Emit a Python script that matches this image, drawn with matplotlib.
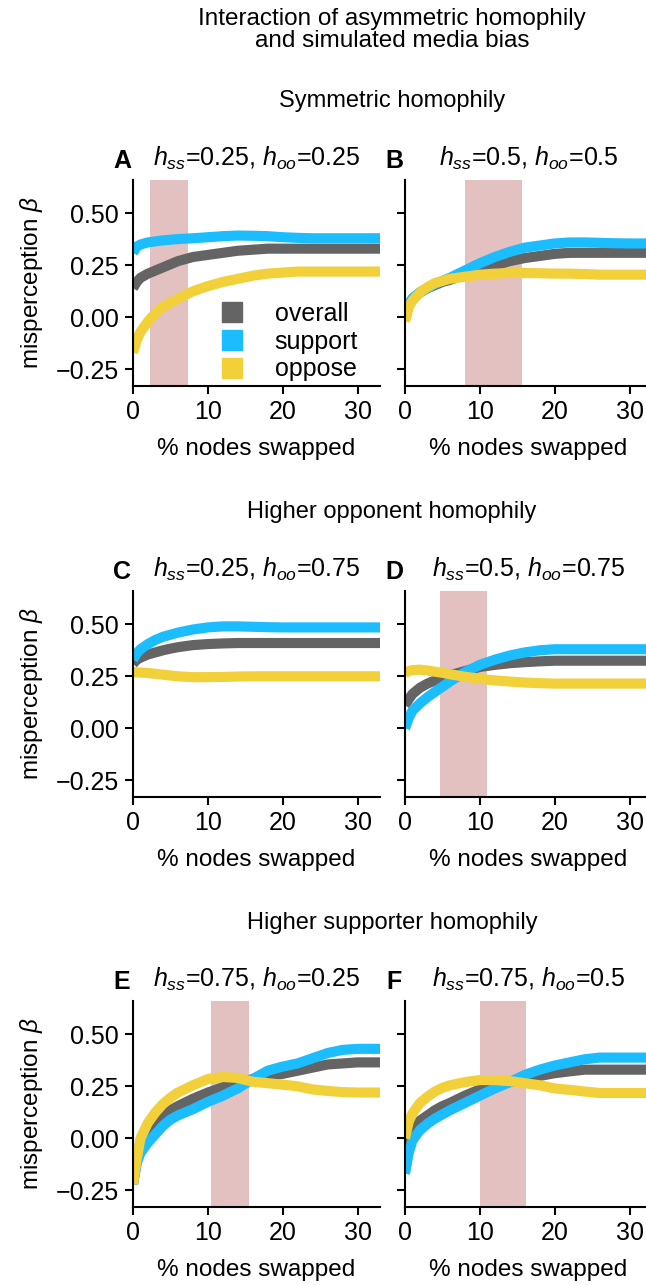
import numpy as np
import matplotlib
matplotlib.use("Agg")
import matplotlib.pyplot as plt
from matplotlib.lines import Line2D

plt.rcParams['font.family'] = ['Liberation Sans', 'DejaVu Sans']
plt.rcParams['mathtext.fontset'] = 'custom'
plt.rcParams['mathtext.rm'] = 'Liberation Sans'
plt.rcParams['mathtext.it'] = 'Liberation Sans:italic'
plt.rcParams['font.size'] = 18

# % nodes swapped
x = [0, 0.5, 1, 2, 3, 4, 5, 6, 8, 10, 12, 14, 16, 18, 20, 22, 24, 26, 28, 30, 33]

# panel A: h_ss=0.25, h_oo=0.25
a_overall = [0.14, 0.17, 0.19, 0.21, 0.225, 0.24, 0.255, 0.27, 0.29, 0.30, 0.31, 0.32, 0.325, 0.33, 0.33, 0.33, 0.33, 0.33, 0.33, 0.33, 0.33]
a_support = [0.31, 0.34, 0.35, 0.36, 0.365, 0.37, 0.373, 0.376, 0.38, 0.385, 0.39, 0.393, 0.392, 0.39, 0.385, 0.382, 0.38, 0.38, 0.38, 0.38, 0.38]
a_oppose = [-0.17, -0.11, -0.07, -0.02, 0.02, 0.05, 0.07, 0.09, 0.125, 0.15, 0.17, 0.185, 0.20, 0.21, 0.215, 0.22, 0.22, 0.22, 0.22, 0.22, 0.22]

# panel B: h_ss=0.5, h_oo=0.5
b_overall = [-0.01, 0.06, 0.09, 0.12, 0.14, 0.155, 0.17, 0.18, 0.205, 0.23, 0.25, 0.27, 0.285, 0.295, 0.305, 0.31, 0.31, 0.31, 0.31, 0.31, 0.31]
b_support = [-0.01, 0.06, 0.09, 0.12, 0.14, 0.16, 0.175, 0.19, 0.225, 0.26, 0.29, 0.315, 0.335, 0.345, 0.355, 0.36, 0.36, 0.358, 0.356, 0.355, 0.355]
b_oppose = [-0.02, 0.05, 0.08, 0.12, 0.145, 0.165, 0.175, 0.185, 0.195, 0.205, 0.21, 0.213, 0.213, 0.212, 0.21, 0.21, 0.208, 0.205, 0.205, 0.205, 0.205]

# panel C: h_ss=0.25, h_oo=0.75
c_overall = [0.31, 0.33, 0.34, 0.355, 0.365, 0.375, 0.383, 0.39, 0.40, 0.405, 0.408, 0.41, 0.41, 0.41, 0.41, 0.41, 0.41, 0.41, 0.41, 0.41, 0.41]
c_support = [0.33, 0.36, 0.38, 0.405, 0.425, 0.44, 0.45, 0.46, 0.475, 0.485, 0.49, 0.49, 0.488, 0.486, 0.485, 0.485, 0.485, 0.485, 0.485, 0.485, 0.485]
c_oppose = [0.27, 0.269, 0.268, 0.266, 0.262, 0.258, 0.254, 0.25, 0.246, 0.246, 0.247, 0.249, 0.25, 0.25, 0.25, 0.25, 0.25, 0.25, 0.25, 0.25, 0.25]

# panel D: h_ss=0.5, h_oo=0.75
d_overall = [0.11, 0.14, 0.165, 0.195, 0.215, 0.23, 0.24, 0.255, 0.275, 0.295, 0.305, 0.313, 0.318, 0.322, 0.325, 0.325, 0.325, 0.325, 0.325, 0.325, 0.325]
d_support = [0.0, 0.05, 0.085, 0.12, 0.15, 0.175, 0.2, 0.225, 0.27, 0.305, 0.33, 0.35, 0.365, 0.375, 0.38, 0.38, 0.38, 0.38, 0.38, 0.38, 0.38]
d_oppose = [0.265, 0.275, 0.28, 0.282, 0.278, 0.272, 0.267, 0.26, 0.248, 0.238, 0.23, 0.225, 0.22, 0.217, 0.215, 0.215, 0.215, 0.215, 0.215, 0.215, 0.215]

# panel E: h_ss=0.75, h_oo=0.25
e_overall = [-0.22, -0.11, -0.05, 0.01, 0.06, 0.105, 0.135, 0.155, 0.19, 0.22, 0.245, 0.265, 0.285, 0.30, 0.31, 0.325, 0.34, 0.355, 0.36, 0.365, 0.365]
e_support = [-0.22, -0.12, -0.07, -0.02, 0.02, 0.06, 0.09, 0.11, 0.14, 0.175, 0.205, 0.24, 0.285, 0.325, 0.345, 0.36, 0.385, 0.41, 0.425, 0.43, 0.43]
e_oppose = [-0.22, -0.1, 0.0, 0.075, 0.125, 0.165, 0.195, 0.22, 0.255, 0.285, 0.295, 0.29, 0.272, 0.265, 0.258, 0.25, 0.235, 0.228, 0.222, 0.22, 0.22]

# panel F: h_ss=0.75, h_oo=0.5
f_overall = [-0.08, 0.0, 0.04, 0.085, 0.11, 0.135, 0.155, 0.17, 0.205, 0.235, 0.255, 0.27, 0.285, 0.30, 0.313, 0.322, 0.33, 0.33, 0.33, 0.33, 0.33]
f_support = [-0.17, -0.07, -0.01, 0.04, 0.07, 0.095, 0.115, 0.135, 0.17, 0.205, 0.24, 0.27, 0.305, 0.33, 0.35, 0.365, 0.38, 0.388, 0.388, 0.388, 0.388]
f_oppose = [0.0, 0.08, 0.12, 0.17, 0.2, 0.225, 0.243, 0.255, 0.27, 0.28, 0.28, 0.275, 0.265, 0.255, 0.24, 0.233, 0.225, 0.218, 0.218, 0.218, 0.218]

# shaded windows (start, end) per panel, None if absent
spans = [(2.3, 7.3), (8.0, 15.6), None, (4.7, 10.9), (10.4, 15.5), (10.0, 16.2)]
titles = [r'$h_{ss}$=0.25, $h_{oo}$=0.25', r'$h_{ss}$=0.5, $h_{oo}$=0.5',
          r'$h_{ss}$=0.25, $h_{oo}$=0.75', r'$h_{ss}$=0.5, $h_{oo}$=0.75',
          r'$h_{ss}$=0.75, $h_{oo}$=0.25', r'$h_{ss}$=0.75, $h_{oo}$=0.5']
letters = ['A', 'B', 'C', 'D', 'E', 'F']
sections = ['Symmetric homophily', 'Higher opponent homophily', 'Higher supporter homophily']
panels = [(a_overall, a_support, a_oppose), (b_overall, b_support, b_oppose),
          (c_overall, c_support, c_oppose), (d_overall, d_support, d_oppose),
          (e_overall, e_support, e_oppose), (f_overall, f_support, f_oppose)]

c_overall_col = '#646464'
c_support_col = '#1cbdff'
c_oppose_col = '#f1d03a'
span_col = '#e4c1c1'

W, H = 646, 1285
fig = plt.figure(figsize=(W / 100, H / 100), dpi=100)

lefts = [133, 405]
bottoms = [386, 797, 1207]
ax_w, ax_h = 247, 206

for i in range(6):
    row, col = i // 2, i % 2
    ax = fig.add_axes([lefts[col] / W, (H - bottoms[row]) / H, ax_w / W, ax_h / H])
    if spans[i] is not None:
        ax.axvspan(spans[i][0], spans[i][1], color=span_col, lw=0, zorder=0)
    ov, su, op = panels[i]
    ax.plot(x, ov, color=c_overall_col, lw=7.3, solid_capstyle='butt')
    ax.plot(x, su, color=c_support_col, lw=7.3, solid_capstyle='butt')
    ax.plot(x, op, color=c_oppose_col, lw=7.3, solid_capstyle='butt')
    ax.set_xlim(0, 33)
    ax.set_ylim(-0.33, 0.66)
    ax.set_xticks([0, 10, 20, 30])
    ax.set_yticks([-0.25, 0, 0.25, 0.5])
    ax.spines['top'].set_visible(False)
    ax.spines['right'].set_visible(False)
    ax.spines['left'].set_linewidth(1.5)
    ax.spines['bottom'].set_linewidth(1.5)
    ax.tick_params(width=1.5, length=6, labelsize=18, pad=4)
    ax.set_xlabel('% nodes swapped', fontsize=17.5, labelpad=10)
    if col == 0:
        ax.set_yticklabels(['\u22120.25', '0.00', '0.25', '0.50'])
        ax.set_ylabel(r'misperception $\beta$', fontsize=17.5, labelpad=8)
    else:
        ax.set_yticklabels([])
    ax.set_title(titles[i], fontsize=18, pad=10)
    ax.text(-0.045, 1.09, letters[i], transform=ax.transAxes, fontsize=18,
            fontweight='bold', ha='center', va='center')
    if i == 0:
        handles = [Line2D([], [], ls='', marker='s', ms=14, color=c) for c in
                   (c_overall_col, c_support_col, c_oppose_col)]
        ax.legend(handles, ['overall', 'support', 'oppose'], loc='lower left',
                  bbox_to_anchor=(0.24, -0.05), frameon=False, handletextpad=0.7,
                  labelspacing=0.15, fontsize=18, borderaxespad=0.2)

fig.text(392 / W, 1 - 30 / H, 'Interaction of asymmetric homophily\nand simulated media bias',
         ha='center', va='center', fontsize=17.5, linespacing=1.0)
for r, s in enumerate(sections):
    fig.text(392 / W, 1 - (101 + 411 * r) / H, s, ha='center', va='center', fontsize=17)

fig.savefig('out.png', dpi=100)
